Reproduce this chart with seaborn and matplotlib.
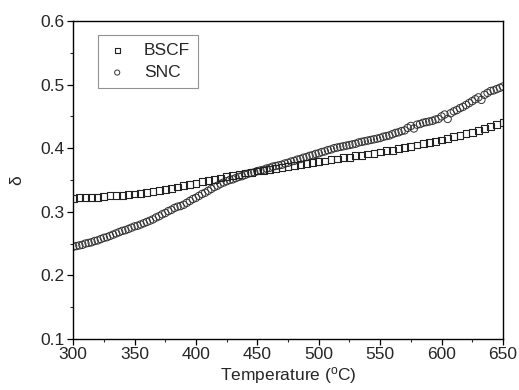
import numpy as np
import pandas as pd
import matplotlib
matplotlib.use("Agg")
import matplotlib.pyplot as plt
from matplotlib.ticker import MultipleLocator
import seaborn as sns

# BSCF: readings every 5 degC from 300 to 650
bscf_temp = np.arange(300, 650.1, 5)
bscf_delta = [
    0.321, 0.322, 0.322, 0.323, 0.323, 0.324, 0.325, 0.325, 0.326, 0.327,
    0.328, 0.329, 0.330, 0.332, 0.333, 0.335, 0.337, 0.339, 0.341, 0.343,
    0.345, 0.347, 0.349, 0.351, 0.353, 0.355, 0.357, 0.359, 0.361, 0.362,
    0.364, 0.365, 0.367, 0.368, 0.370, 0.371, 0.373, 0.374, 0.376, 0.377,
    0.379, 0.380, 0.382, 0.383, 0.385, 0.386, 0.388, 0.389, 0.391, 0.392,
    0.394, 0.396, 0.397, 0.399, 0.401, 0.403, 0.405, 0.407, 0.409, 0.411,
    0.413, 0.415, 0.418, 0.420, 0.423, 0.425, 0.428, 0.431, 0.434, 0.437,
    0.440,
]

# SNC: readings every 2.5 degC from 300 to 650
snc_temp = np.arange(300, 650.1, 2.5)
snc_delta = [
    0.245, 0.246, 0.247, 0.248, 0.250, 0.251, 0.252, 0.254, 0.255, 0.257,
    0.259, 0.260, 0.262, 0.264, 0.266, 0.268, 0.270, 0.271, 0.273, 0.275,
    0.277, 0.278, 0.280, 0.282, 0.284, 0.286, 0.288, 0.291, 0.293, 0.296,
    0.298, 0.301, 0.303, 0.306, 0.308, 0.309, 0.311, 0.314, 0.317, 0.320,
    0.322, 0.325, 0.328, 0.330, 0.333, 0.336, 0.339, 0.341, 0.344, 0.346,
    0.348, 0.350, 0.351, 0.353, 0.355, 0.356, 0.358, 0.360, 0.361, 0.362,
    0.364, 0.365, 0.366, 0.368, 0.369, 0.371, 0.372, 0.373, 0.374, 0.376,
    0.377, 0.379, 0.380, 0.382, 0.383, 0.385, 0.386, 0.388, 0.389, 0.391,
    0.392, 0.394, 0.395, 0.397, 0.398, 0.400, 0.401, 0.402, 0.403, 0.404,
    0.405, 0.406, 0.407, 0.409, 0.410, 0.411, 0.412, 0.413, 0.414, 0.415,
    0.416, 0.418, 0.419, 0.420, 0.422, 0.424, 0.425, 0.427, 0.428, 0.432,
    0.435, 0.431, 0.437, 0.438, 0.440, 0.441, 0.442, 0.443, 0.445, 0.446,
    0.450, 0.453, 0.446, 0.455, 0.458, 0.460, 0.463, 0.465, 0.468, 0.471,
    0.474, 0.477, 0.480, 0.476, 0.484, 0.487, 0.490, 0.491, 0.493, 0.495,
    0.497,
]

bscf = pd.DataFrame({"T": bscf_temp, "delta": bscf_delta})
snc = pd.DataFrame({"T": snc_temp, "delta": snc_delta})

sns.set_style("ticks")
plt.rcParams["font.family"] = ["Liberation Sans", "DejaVu Sans"]

fig, ax = plt.subplots(figsize=(5.19, 3.90), dpi=100)
fig.subplots_adjust(left=0.141, right=0.969, top=0.946, bottom=0.131)

sns.scatterplot(data=bscf, x="T", y="delta", ax=ax, marker="s", s=24,
                facecolor="none", edgecolor="#222222", linewidth=0.8,
                label="BSCF", zorder=3)
sns.scatterplot(data=snc, x="T", y="delta", ax=ax, marker="o", s=28,
                facecolor="none", edgecolor="#333333", linewidth=0.7,
                label="SNC", zorder=2)

ax.set_xlim(300, 650)
ax.set_ylim(0.1, 0.6)
ax.xaxis.set_major_locator(MultipleLocator(50))
ax.xaxis.set_minor_locator(MultipleLocator(25))
ax.yaxis.set_major_locator(MultipleLocator(0.1))
ax.yaxis.set_minor_locator(MultipleLocator(0.05))
ax.tick_params(which="major", direction="out", length=4, width=0.9,
               labelsize=12.5, color="black", pad=2)
ax.tick_params(which="minor", direction="out", length=2.5, width=0.8)
for sp in ax.spines.values():
    sp.set_linewidth(1.0)
    sp.set_color("black")

ax.set_xlabel("Temperature ($\\mathregular{^o}$C)", fontsize=12.5, labelpad=2)
ax.set_ylabel("δ", fontsize=12.5, labelpad=12)

leg = ax.legend(loc="upper left", bbox_to_anchor=(0.058, 0.956), frameon=True,
                fancybox=False, fontsize=12.5, handletextpad=0.9,
                borderpad=0.45, labelspacing=0.4, markerscale=0.7,
                handlelength=1.3, borderaxespad=0)
leg.get_frame().set_edgecolor("#777777")
leg.get_frame().set_linewidth(0.8)

fig.savefig("out.png", dpi=100)
